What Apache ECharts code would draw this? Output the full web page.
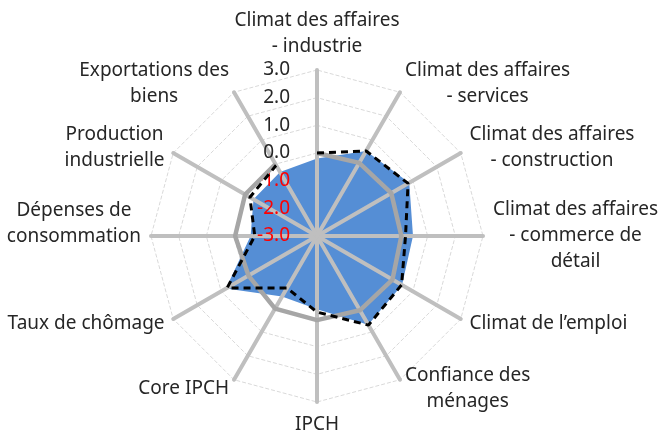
<!DOCTYPE html>
<html lang="fr">
<head>
    <meta charset="utf-8" />
    <title>Radar conjoncture</title>
    <script type="text/javascript" src="https://cdn.jsdelivr.net/npm/echarts@6/dist/echarts.min.js"></script>
    <style type="text/css">
        html, body { margin: 0; padding: 0; background: #fff; }
    </style>
</head>
<body>
    <div id="main" style="width:666px;height:432px;"></div>

    <script type="text/javascript">
        // ordre horaire en partant du haut
        var categories = ['Climat des affaires\n- industrie', 'Climat des affaires\n- services', 'Climat des affaires\n- construction',
            'Climat des affaires\n- commerce de\ndétail', 'Climat de l’emploi', 'Confiance des\nménages', 'IPCH', 'Core IPCH',
            'Taux de chômage', 'Dépenses de\nconsommation', 'Production\nindustrielle', 'Exportations des\nbiens'];
        var current_data = [-0.2, 0.55, 0.85, 0.47, 0.55, 0.7, -0.35, -0.47, 0.8, -0.6, -0.35, -0.33];
        var gray_data = [0.0, 0.05, 0.1, 0.05, 0.15, 0.1, 0.04, 0.03, -0.14, -0.04, 0.0, 0.0];
        var dashed_data = [0.0, 0.55, 0.8, 0.2, 0.53, 0.72, -0.25, -0.83, 0.75, -0.75, -0.2, -0.05];
        var axis_min = -3, axis_max = 3;

        var center = [317, 236];
        var radius = 166;
        var font = 'Noto Sans';
        var textColor = '#262626';

        // le radar d'echarts tourne dans le sens anti-horaire
        function ccw(arr) {
            return [arr[0]].concat(arr.slice(1).reverse());
        }

        var indicators = ccw(categories).map(function (n) {
            return { name: n, min: axis_min, max: axis_max };
        });
        var indicators_labels = indicators.map(function (ind, i) {
            var o = { name: ind.name, min: axis_min, max: axis_max };
            if (i == 0) {
                o.axisLabel = {
                    show: true,
                    margin: 27,
                    fontSize: 19,
                    fontFamily: font,
                    formatter: function (v) { return Number(v).toFixed(1); },
                    color: function (v) { return Number(v) < 0 ? '#FF0000' : textColor; }
                };
            }
            return o;
        });

        var myChart = echarts.init(document.getElementById('main'));

        var option = {
            animation: false,
            radar: [{
                center: center,
                radius: radius,
                startAngle: 90,
                shape: 'polygon',
                splitNumber: 6,
                nameGap: 10,
                indicator: indicators,
                axisName: {
                    color: textColor,
                    fontSize: 19,
                    fontFamily: font,
                    lineHeight: 26,
                    formatter: function (name) {
                        var s = name.split('\n').map(function (l) { return '{c|' + l + '}'; }).join('\n');
                        // dans Excel ce libellé est un peu plus haut
                        if (name.indexOf('Dépenses') == 0) s += '\n{e| }';
                        return s;
                    },
                    rich: {
                        c: { align: 'center', fontSize: 19, lineHeight: 26, fontFamily: font, color: textColor },
                        e: { fontSize: 2, lineHeight: 24 }
                    }
                },
                axisLine: { show: false },
                axisTick: { show: false },
                axisLabel: { show: false },
                splitArea: { show: false },
                splitLine: { lineStyle: { color: '#D9D9D9', type: 'dashed', width: 1 } },
                z: 0
            }, {
                center: center,
                radius: radius,
                startAngle: 90,
                shape: 'polygon',
                splitNumber: 6,
                indicator: indicators_labels,
                axisName: { show: false },
                axisLine: { lineStyle: { color: '#BFBFBF', width: 4 } },
                axisTick: { show: false },
                axisLabel: { show: false },
                splitArea: { show: false },
                splitLine: { show: false },
                z: 3
            }],
            polar: {
                center: center,
                radius: radius
            },
            angleAxis: {
                type: 'category',
                data: categories,
                startAngle: 90,
                clockwise: true,
                boundaryGap: false,
                show: false
            },
            radiusAxis: {
                type: 'value',
                min: axis_min,
                max: axis_max,
                show: false
            },
            series: [{
                type: 'radar',
                radarIndex: 0,
                symbol: 'none',
                z: 2,
                lineStyle: { width: 0 },
                areaStyle: { color: '#558ED5', opacity: 1 },
                data: [{ value: ccw(current_data) }]
            }, {
                type: 'line',
                coordinateSystem: 'polar',
                symbol: 'none',
                z: 4,
                lineStyle: { color: '#A6A6A6', width: 4.5 },
                data: gray_data
            }, {
                type: 'line',
                coordinateSystem: 'polar',
                symbol: 'none',
                z: 5,
                lineStyle: { color: '#000000', width: 3, type: [7, 5] },
                data: dashed_data
            }]
        };
        myChart.setOption(option, true);
    </script>
</body>
</html>
